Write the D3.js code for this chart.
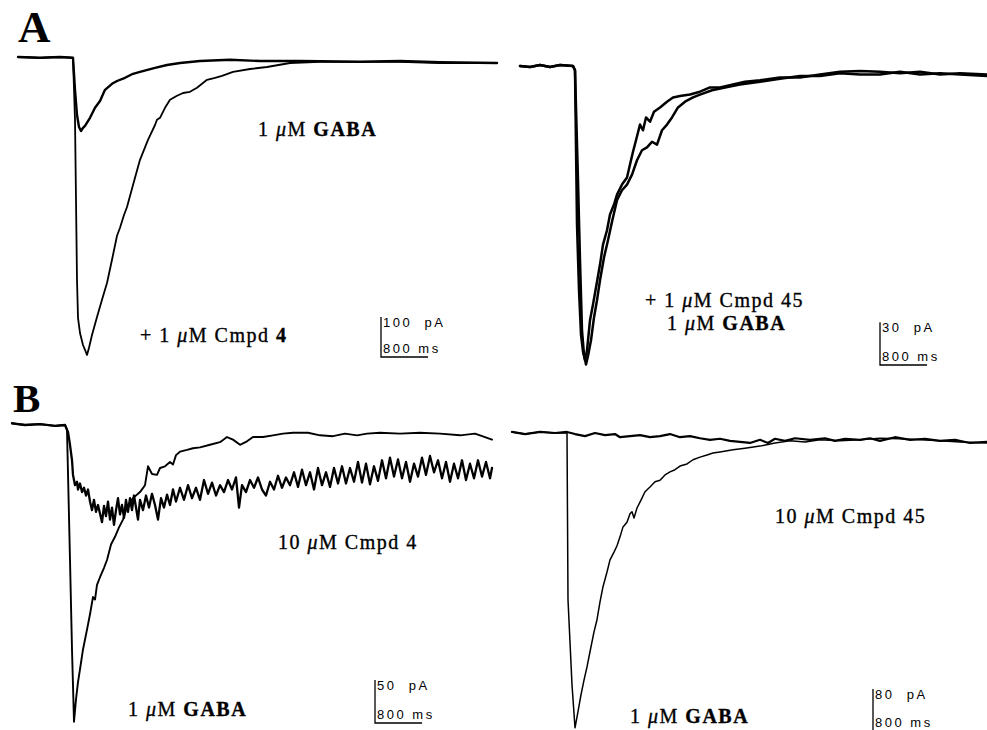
<!DOCTYPE html>
<html>
<head>
<meta charset="utf-8">
<script src="https://cdn.jsdelivr.net/npm/d3@7"></script>
<style>
body { margin:0; background:#fff; }
svg { display:block; }
.lbl { font-family:"Liberation Serif","Times New Roman",serif; font-size:20px; letter-spacing:1.5px; fill:#000; stroke:#000; stroke-width:0.35; white-space:pre; }
.panel { font-family:"Liberation Serif","Times New Roman",serif; font-weight:bold; fill:#000; }
.bar { font-family:"Liberation Sans",Arial,sans-serif; font-size:13px; letter-spacing:2.5px; fill:#000; white-space:pre; }
.trace { fill:none; stroke:#000; stroke-linejoin:round; stroke-linecap:round; }
.sbar { stroke:#000; stroke-width:1.3; fill:none; }
</style>
</head>
<body>
<script>
// traces: [time (ms), current (pA)]

// A, left: 1 uM GABA alone and + 1 uM Cmpd 4
var a1Gaba = [[0,0],[374,-2],[714,0],[935,-2],[969,-82],[1003,-145],[1037,-175],[1071,-185],[1105,-177],[1139,-172],
  [1224,-152],[1309,-127],[1394,-110],[1479,-82],[1598,-67],[1683,-60],[1819,-52],[1955,-42],[2074,-37],[2329,-27],
  [2533,-20],[2754,-15],[3094,-10],[3604,-7],[4114,-10],[4794,-10],[5814,-12],[6494,-10],[7174,-13],[8143,-15]];
var a1Cmpd4 = [[0,0],[374,-2],[714,0],[935,-2],[969,-157],[986,-357],[1003,-557],[1020,-652],[1054,-690],[1105,-720],
  [1139,-732],[1173,-745],[1207,-727],[1258,-695],[1343,-650],[1428,-607],[1513,-565],[1598,-507],[1683,-447],[1734,-427],
  [1802,-395],[1853,-375],[1955,-320],[2074,-257],[2210,-207],[2329,-170],[2363,-157],[2414,-152],[2499,-127],[2584,-107],
  [2703,-97],[2805,-90],[2924,-87],[3043,-77],[3213,-57],[3349,-52],[3468,-47],[3655,-37],[3944,-30],[4233,-25],
  [4624,-15],[5134,-12],[5814,-12],[6494,-12],[7174,-15],[8143,-15]];

// A, right: 1 uM GABA and + 1 uM Cmpd 45
var a2Run1 = [[0,0],[170,-0.7],[340,0.7],[510,-0.7],[680,0.7],[901,0],[935,-3],[969,-111],[1003,-157],[1037,-188],
  [1071,-200],[1105,-206],[1139,-199],[1190,-178],[1241,-167],[1309,-151],[1360,-139],[1411,-125],[1479,-115],[1530,-104],
  [1598,-97],[1649,-90],[1734,-83],[1819,-78],[1870,-69],[1921,-60],[1972,-52],[2040,-41],[2091,-45],[2142,-36],
  [2210,-39],[2278,-32],[2380,-29],[2499,-25],[2601,-22],[2720,-21],[2890,-20],[3060,-18],[3230,-15],[3400,-15],
  [3621,-13],[3825,-11],[4080,-10],[4420,-8],[4760,-8],[5100,-6],[5440,-4],[5780,-3.5],[6120,-4],[6460,-5],
  [6800,-4],[7140,-6],[7480,-5],[7939,-6]];
var a2Run2 = [[0,0],[170,-0.7],[340,0.7],[510,-0.7],[680,0.7],[901,0],[935,-3],[986,-80],[1020,-136],[1054,-185],
  [1088,-202],[1122,-209],[1156,-203],[1207,-192],[1258,-176],[1309,-164],[1360,-150],[1428,-134],[1496,-122],[1564,-109],
  [1649,-94],[1734,-87],[1819,-83],[1904,-76],[1989,-66],[2074,-59],[2159,-57],[2244,-53],[2329,-55],[2414,-45],
  [2499,-41],[2584,-36],[2686,-29],[2805,-25],[2941,-22],[3060,-20],[3264,-17],[3485,-15],[3740,-13],[4080,-11],
  [4420,-9],[4760,-7],[5100,-7],[5440,-5],[5780,-6],[6120,-6],[6460,-4],[6800,-6],[7140,-5],[7480,-6],[7939,-7]];

// B, left: 1 uM GABA and 10 uM Cmpd 4
var b1Gaba = [[0,2],[221,0],[476,1],[731,-1],[901,0],[935,-6],[986,-157],[1020,-261],[1054,-345],[1088,-319],
  [1122,-299],[1156,-284],[1207,-261],[1275,-238],[1326,-220],[1377,-200],[1411,-203],[1445,-186],[1496,-177],[1564,-166],
  [1615,-157],[1683,-139],[1751,-130],[1819,-119],[1887,-110],[1955,-95],[2057,-85],[2176,-78],[2261,-70],[2312,-48],
  [2380,-57],[2465,-58],[2516,-50],[2601,-48],[2686,-43],[2737,-46],[2788,-35],[2856,-31],[2975,-29],[3077,-27],
  [3196,-26],[3366,-23],[3536,-20],[3655,-14],[3757,-17],[3876,-23],[3995,-19],[4097,-14],[4267,-14],[4437,-12],
  [4607,-10],[4777,-9],[5032,-9],[5236,-12],[5457,-13],[5661,-10],[5865,-12],[6035,-10],[6256,-9],[6596,-10],
  [6936,-9],[7276,-10],[7616,-12],[7871,-10],[8041,-14],[8160,-17]];
var b1Cmpd4 = [[0,2],[221,0],[476,1],[731,-1],[901,0],[952,-8],[986,-23],[1020,-41],[1037,-58],[1071,-70],
  [1105,-66],[1122,-75],[1156,-68],[1190,-78],[1224,-73],[1258,-82],[1292,-75],[1326,-89],[1360,-99],[1394,-87],
  [1428,-101],[1462,-93],[1496,-103],[1530,-113],[1564,-94],[1598,-106],[1632,-89],[1666,-110],[1700,-96],[1734,-116],
  [1768,-99],[1802,-85],[1836,-104],[1870,-93],[1904,-108],[1938,-87],[1972,-101],[2006,-85],[2040,-99],[2074,-82],
  [2108,-96],[2142,-110],[2176,-87],[2227,-99],[2278,-82],[2329,-96],[2380,-80],[2431,-93],[2482,-110],[2533,-85],
  [2584,-96],[2635,-81],[2686,-93],[2737,-75],[2788,-89],[2856,-73],[2924,-87],[2992,-70],[3060,-85],[3128,-73],
  [3196,-87],[3264,-64],[3332,-80],[3400,-67],[3468,-82],[3536,-70],[3604,-78],[3672,-64],[3740,-75],[3808,-61],
  [3859,-96],[3910,-70],[3978,-78],[4046,-64],[4114,-73],[4182,-61],[4250,-75],[4318,-82],[4386,-66],[4454,-75],
  [4522,-59],[4590,-73],[4658,-61],[4726,-70],[4794,-55],[4862,-72],[4930,-52],[4998,-70],[5066,-55],[5134,-75],
  [5202,-50],[5270,-70],[5338,-55],[5406,-72],[5474,-50],[5542,-68],[5610,-48],[5678,-68],[5746,-50],[5814,-66],
  [5882,-43],[5950,-67],[6018,-45],[6086,-69],[6154,-48],[6222,-65],[6290,-41],[6358,-62],[6426,-38],[6494,-60],
  [6562,-40],[6630,-62],[6698,-43],[6766,-66],[6834,-45],[6902,-60],[6970,-38],[7038,-58],[7106,-36],[7174,-55],
  [7242,-41],[7310,-62],[7378,-43],[7446,-66],[7514,-45],[7582,-62],[7650,-41],[7718,-64],[7786,-45],[7854,-62],
  [7922,-41],[7990,-60],[8058,-43],[8126,-62],[8160,-50]];

// B, right: 1 uM GABA and 10 uM Cmpd 45
var b2Gaba = [[0,2],[221,-2],[476,2],[731,0],[935,0],[952,-318],[1020,-480],[1071,-562],[1122,-531],[1173,-499],
  [1224,-471],[1275,-446],[1326,-417],[1394,-379],[1445,-356],[1496,-322],[1547,-293],[1615,-265],[1666,-242],[1734,-227],
  [1785,-215],[1836,-198],[1887,-179],[1955,-170],[2006,-154],[2040,-150],[2074,-162],[2125,-143],[2193,-128],[2261,-112],
  [2346,-103],[2431,-93],[2516,-90],[2601,-80],[2686,-74],[2771,-70],[2856,-63],[2975,-59],[3077,-51],[3196,-46],
  [3315,-42],[3417,-38],[3536,-36],[3757,-32],[3961,-29],[4216,-25],[4471,-19],[4726,-15],[4981,-17],[5236,-13],
  [5576,-15],[5916,-13],[6256,-10],[6596,-11],[6936,-13],[7276,-15],[7616,-17],[8075,-19]];
var b2Cmpd45 = [[0,2],[221,-2],[476,2],[731,0],[935,2],[1071,-2],[1241,-6],[1411,0],[1581,-4],[1751,-2],
  [1836,-8],[2006,-6],[2176,-4],[2346,-8],[2516,-6],[2686,-2],[2856,-8],[3026,-6],[3196,-10],[3366,-13],
  [3536,-11],[3706,-15],[3876,-17],[4046,-19],[4216,-13],[4352,-19],[4471,-11],[4641,-15],[4811,-10],[5066,-13],
  [5321,-10],[5491,-15],[5661,-11],[5916,-13],[6086,-10],[6256,-15],[6511,-8],[6766,-13],[7021,-11],[7276,-15],
  [7531,-13],[7786,-19],[8075,-17]];

// scale bar sizes (ms, pA) per panel
var barTime = 800;
var barCurrent = [100, 30, 50, 80];

var svgW = 987, svgH = 730;

var panels = [
  { tMax: 8143, iMax: 750, x0: 18,  x1: 497, y0: 57,  y1: 357,
    traces: [{d: a1Gaba, w: 2.4}, {d: a1Cmpd4, w: 1.8}],
    bar: {x: 381, y: 357, pA: barCurrent[0]},
    labels: [
      {x: 258, y: 136, parts: [["1 ", ""], ["\u03bc", "i"], ["M ", ""], ["GABA", "b"]]},
      {x: 140, y: 342, parts: [["+ 1 ", ""], ["\u03bc", "i"], ["M Cmpd ", ""], ["4", "b"]]}
    ] },
  { tMax: 7939, iMax: 210, x0: 520, x1: 987, y0: 66,  y1: 366,
    traces: [{d: a2Run1, w: 2.5}, {d: a2Run2, w: 2.5}],
    bar: {x: 880, y: 365, pA: barCurrent[1]},
    labels: [
      {x: 645, y: 307, parts: [["+ 1 ", ""], ["\u03bc", "i"], ["M Cmpd 45", ""]]},
      {x: 667, y: 330, parts: [["1 ", ""], ["\u03bc", "i"], ["M ", ""], ["GABA", "b"]]}
    ] },
  { tMax: 8160, iMax: 350, x0: 12,  x1: 492, y0: 425, y1: 726,
    traces: [{d: b1Gaba, w: 1.9}, {d: b1Cmpd4, w: 2.3}],
    bar: {x: 375, y: 723, pA: barCurrent[2]},
    labels: [
      {x: 278, y: 549, parts: [["10 ", ""], ["\u03bc", "i"], ["M Cmpd 4", ""]]},
      {x: 128, y: 716, parts: [["1 ", ""], ["\u03bc", "i"], ["M ", ""], ["GABA", "b"]]}
    ] },
  { tMax: 8075, iMax: 570, x0: 512, x1: 987, y0: 433, y1: 732,
    traces: [{d: b2Cmpd45, w: 2.2}, {d: b2Gaba, w: 1.5}],
    bar: {x: 873, y: 731, pA: barCurrent[3]},
    labels: [
      {x: 775, y: 523, parts: [["10 ", ""], ["\u03bc", "i"], ["M Cmpd 45", ""]]},
      {x: 630, y: 723, parts: [["1 ", ""], ["\u03bc", "i"], ["M ", ""], ["GABA", "b"]]}
    ] }
];

var svg = d3.select("body").append("svg")
    .attr("width", svgW)
    .attr("height", svgH);

svg.append("text").attr("class", "panel").attr("x", 18).attr("y", 42).attr("font-size", 45).text("A");
svg.append("text").attr("class", "panel").attr("x", 13).attr("y", 412).attr("font-size", 41).text("B");

panels.forEach(function(p) {
  var x = d3.scaleLinear().domain([0, p.tMax]).range([p.x0, p.x1]);
  var y = d3.scaleLinear().domain([0, -p.iMax]).range([p.y0, p.y1]);

  var line = d3.line()
      .x(function(d) { return x(d[0]); })
      .y(function(d) { return y(d[1]); });

  var g = svg.append("g");

  g.selectAll("path.trace")
    .data(p.traces)
    .enter()
    .append("path")
    .attr("class", "trace")
    .attr("stroke-width", function(d) { return d.w; })
    .attr("d", function(d) { return line(d.d); });

  // scale bar from the scales
  var vLen = y(-p.bar.pA) - y(0);
  var hLen = x(barTime) - x(0);
  g.append("path")
    .attr("class", "sbar")
    .attr("d", "M" + p.bar.x + "," + (p.bar.y - vLen) + "V" + p.bar.y + "H" + (p.bar.x + hLen));
  g.append("text").attr("class", "bar")
    .attr("x", p.bar.x + 2).attr("y", p.bar.y - vLen + 10)
    .text(p.bar.pA + "  pA");
  g.append("text").attr("class", "bar")
    .attr("x", p.bar.x + 2).attr("y", p.bar.y - 4)
    .text(barTime + " ms");

  var lbl = g.selectAll("text.lbl")
    .data(p.labels)
    .enter()
    .append("text")
    .attr("class", "lbl")
    .attr("x", function(d) { return d.x; })
    .attr("y", function(d) { return d.y; });

  lbl.selectAll("tspan")
    .data(function(d) { return d.parts; })
    .enter()
    .append("tspan")
    .attr("font-weight", function(d) { return d[1] == "b" ? "bold" : null; })
    .attr("font-style", function(d) { return d[1] == "i" ? "italic" : null; })
    .text(function(d) { return d[0]; });
});
</script>
</body>
</html>
